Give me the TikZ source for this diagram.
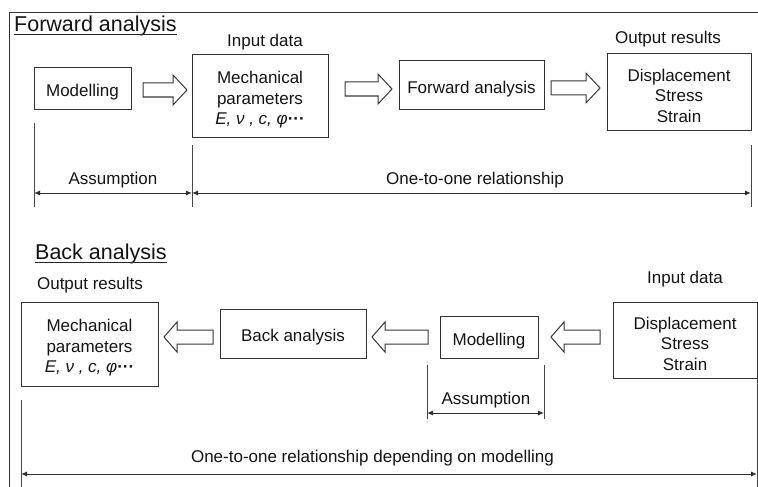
\documentclass[tikz,border=0pt]{standalone}
\usepackage{fontspec}
\setmainfont{Liberation Sans}
\usetikzlibrary{arrows.meta,calc}
\newcommand\blkright[3]{% tail x, tip x, y
  \draw[blk] (#1,#3-7) -- (#2-14,#3-7) -- (#2-14,#3-15) -- (#2,#3) -- (#2-14,#3+15) -- (#2-14,#3+7) -- (#1,#3+7) -- cycle;}
\newcommand\blkleft[3]{% tail x, tip x, y
  \draw[blk] (#1,#3-7) -- (#2+13,#3-7) -- (#2+13,#3-15) -- (#2,#3) -- (#2+13,#3+15) -- (#2+13,#3+7) -- (#1,#3+7) -- cycle;}
\newcommand\topstrut{\rule{0pt}{20pt}}
\begin{document}
\begin{tikzpicture}[x=1pt,y=-1pt,
  box/.style={draw=black!80, line width=1pt, inner sep=0pt, align=center, font=\fontsize{17}{20.5}\selectfont, text=black!92},
  lbl/.style={inner sep=0pt, font=\fontsize{17}{20.5}\selectfont, text=black!92},
  ttl/.style={inner sep=0pt, anchor=base west, font=\fontsize{21.5}{24}\selectfont, text=black!92},
  blk/.style={draw=black!78, line width=1pt, fill=white, line join=miter},
  ext/.style={draw=black!72, line width=0.9pt},
  dim/.style={draw=black!82, line width=1pt, {Latex[length=6pt,width=5pt]}-{Latex[length=6pt,width=5pt]}},
]
\useasboundingbox (0,0) rectangle (758,487);
% frame
\draw[black!80, line width=0.9pt] (9.5,487) -- (9.5,12.7) -- (758,12.7);

% ---------------- Forward analysis ----------------
\node[ttl] (t1) at (14,31.5) {Forward analysis};
\draw[black!85, line width=1pt] ($(t1.base west)+(0,3)$) -- ($(t1.base east)+(0,3)$);

\node[box, minimum width=97pt, minimum height=41pt] (m1) at (82.5,88.5) {\topstrut Modelling};
\node[box, minimum width=136pt, minimum height=82pt] (p1) at (260,96) {\topstrut Mechanical\\parameters\\{\itshape E, ν , c, φ}\textbf{···}};
\node[box, minimum width=145pt, minimum height=48pt] (f1) at (471.5,85) {\topstrut Forward analysis};
\node[box, minimum width=144pt, minimum height=76pt] (o1) at (679,92) {\topstrut Displacement\\Stress\\Strain};
\node[lbl] (in1) at (265,42) {Input data};
\node[lbl] (ou1) at (668,39) {Output results};

\blkright{143}{187}{90}
\blkright{345}{392}{89}
\blkright{551}{600}{88}

\coordinate (a1) at (34,193);
\coordinate (a2) at (192,193);
\coordinate (a3) at (751,193);
\draw[ext] (34,123) -- (34,207);
\draw[ext] (192,145) -- (192,207);
\draw[ext] (751,145) -- (751,207);
\draw[dim] (a1) -- (a2);
\draw[dim] (a2) -- (a3);
\node[lbl] (as1) at (113,180) {Assumption};
\node[lbl] (oo1) at (475,180) {One-to-one relationship};

% ---------------- Back analysis ----------------
\node[ttl] (t2) at (35,259.5) {Back analysis};
\draw[black!85, line width=1pt] ($(t2.base west)+(0,3)$) -- ($(t2.base east)+(0,3)$);

\node[lbl] (ou2) at (90,285) {Output results};
\node[lbl] (in2) at (685,279) {Input data};
\node[box, minimum width=137pt, minimum height=84pt] (p2) at (89.5,344) {\topstrut Mechanical\\parameters\\{\itshape E, ν , c, φ}\textbf{···}};
\node[box, minimum width=146pt, minimum height=49pt] (b2) at (293,333.5) {\topstrut Back analysis};
\node[box, minimum width=98pt, minimum height=42pt] (m2) at (489,337) {\topstrut Modelling};
\node[box, minimum width=144pt, minimum height=76pt] (d2) at (685,340) {\topstrut Displacement\\Stress\\Strain};

\blkleft{213}{164}{337}
\blkleft{428}{372}{337}
\blkleft{600}{551}{337}

\draw[ext] (427,365) -- (427,419);
\draw[ext] (544,365) -- (544,419);
\coordinate (c1) at (427,413);
\coordinate (c2) at (544,413);
\draw[dim] (c1) -- (c2);
\node[lbl] (as2) at (486,400) {Assumption};

\draw[ext] (21,400) -- (21,487);
\draw[ext] (757,378) -- (757,487);
\coordinate (e1) at (21,474);
\coordinate (e2) at (757,474);
\draw[dim] (e1) -- (e2);
\node[lbl] (oo2) at (372.5,458) {One-to-one relationship depending on modelling};
\end{tikzpicture}
\end{document}
